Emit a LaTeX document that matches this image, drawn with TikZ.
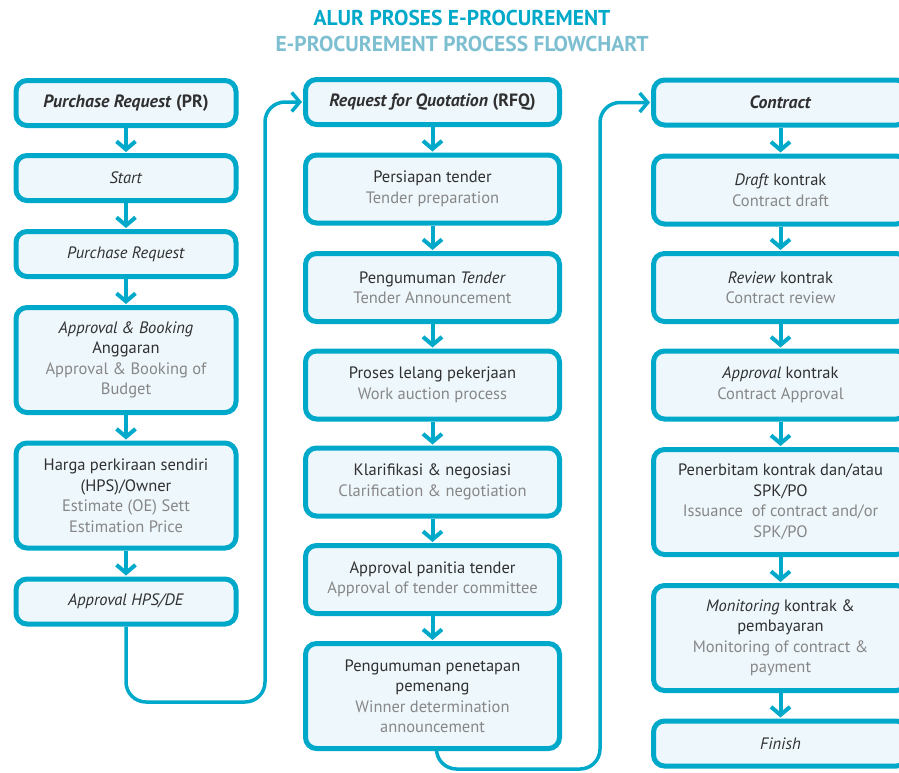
\documentclass[tikz,border=0pt]{standalone}
\usepackage{fontspec}
\setmainfont{PT Sans}
\usetikzlibrary{arrows.meta}

\definecolor{flowblue}{HTML}{00A9C9}
\definecolor{boxfill}{HTML}{EEF7FC}
\definecolor{txtdark}{HTML}{303030}
\definecolor{txtgray}{HTML}{878787}
\definecolor{titlelight}{HTML}{7DBFD0}
\newcommand{\en}[1]{\textcolor{txtgray}{#1}}

\begin{document}
\begin{tikzpicture}[
    >={Straight Barb[length=8pt, width=19pt]},
    font=\fontsize{16.5}{20.5}\selectfont,
    text=txtdark,
    stage/.style={
        draw=flowblue, line width=5pt, fill=boxfill,
        rounded corners=11pt, align=center, inner sep=2pt,
    },
    narrowcol/.style={stage, minimum width=220pt},
    widecol/.style={stage, minimum width=254pt},
    one/.style={minimum height=45pt},
    two/.style={minimum height=68pt},
    four/.style={minimum height=105pt},
    colhead/.style={font=\fontsize{17.8}{20}\selectfont\bfseries},
    flow/.style={->, draw=flowblue, line width=4pt, shorten >=1pt},
    jump/.style={->, draw=flowblue, line width=3.5pt, rounded corners=20pt, shorten >=1pt},
    heading/.style={font=\fontsize{21.5}{24}\selectfont\bfseries},
]

\useasboundingbox (0,0) rectangle (899pt,-772pt);
\clip (0,0) rectangle (899pt,-772pt);

\def\colA{126}
\def\colB{432.5}
\def\colC{780.5}

% title
\node[heading, text=flowblue] (title) at (462pt,-18pt) {ALUR PROSES E-PROCUREMENT};
\node[heading, text=titlelight] (subtitle) at (462pt,-44pt) {E-PROCUREMENT PROCESS FLOWCHART};

% purchase request
\node[narrowcol, one, colhead] (pr) at (\colA pt,-103pt) {\textit{Purchase Request} (PR)};
\node[narrowcol, one] (start) at (\colA pt,-178pt) {\textit{Start}};
\node[narrowcol, one] (preq) at (\colA pt,-254pt) {\textit{Purchase Request}};
\node[narrowcol, four] (budget) at (\colA pt,-360pt) {
    \textit{Approval \& Booking}\\ Anggaran\\
    \en{Approval \& Booking of}\\ \en{Budget}
};
\node[narrowcol, four] (hps) at (\colA pt,-495.5pt) {
    Harga perkiraan sendiri\\ (HPS)/Owner\\
    \en{Estimate (OE) Sett}\\ \en{Estimation Price}
};
\node[narrowcol, one] (hpsde) at (\colA pt,-601.5pt) {\textit{Approval HPS/DE}};

% request for quotation
\node[widecol, one, colhead] (rfq) at (\colB pt,-102pt) {\textit{Request for Quotation} (RFQ)};
\node[widecol, two] (prep) at (\colB pt,-189pt) {Persiapan tender\\ \en{Tender preparation}};
\node[widecol, two] (annc) at (\colB pt,-287.5pt) {Pengumuman \textit{Tender}\\ \en{Tender Announcement}};
\node[widecol, two] (auction) at (\colB pt,-385pt) {Proses lelang pekerjaan\\ \en{Work auction process}};
\node[widecol, two] (nego) at (\colB pt,-482pt) {Klarifikasi \& negosiasi\\ \en{Clarification \& negotiation}};
\node[widecol, two] (panel) at (\colB pt,-579.5pt) {Approval panitia tender\\ \en{Approval of tender committee}};
\node[widecol, four] (winner) at (\colB pt,-696pt) {
    Pengumuman penetapan\\ pemenang\\
    \en{Winner determination}\\ \en{announcement}
};

% contract
\node[widecol, one, colhead] (contract) at (\colC pt,-102.5pt) {\textit{Contract}};
\node[widecol, two] (draft) at (\colC pt,-190pt) {\textit{Draft} kontrak\\ \en{Contract draft}};
\node[widecol, two] (review) at (\colC pt,-287.5pt) {\textit{Review} kontrak\\ \en{Contract review}};
\node[widecol, two] (signoff) at (\colC pt,-385pt) {\textit{Approval} kontrak\\ \en{Contract Approval}};
\node[widecol, four] (issue) at (\colC pt,-502pt) {
    Penerbitam kontrak dan/atau\\ SPK/PO\\
    \en{Issuance~ of contract and/or}\\ \en{SPK/PO}
};
\node[widecol, four] (monitor) at (\colC pt,-638pt) {
    \textit{Monitoring} kontrak \&\\ pembayaran\\
    \en{Monitoring of contract \&}\\ \en{payment}
};
\node[widecol, one] (finish) at (\colC pt,-743.5pt) {\textit{Finish}};

% steps
\draw[flow] (pr) -- (start);
\draw[flow] (start) -- (preq);
\draw[flow] (preq) -- (budget);
\draw[flow] (budget) -- (hps);
\draw[flow] (hps) -- (hpsde);

\draw[flow] (rfq) -- (prep);
\draw[flow] (prep) -- (annc);
\draw[flow] (annc) -- (auction);
\draw[flow] (auction) -- (nego);
\draw[flow] (nego) -- (panel);
\draw[flow] (panel) -- (winner);

\draw[flow] (contract) -- (draft);
\draw[flow] (draft) -- (review);
\draw[flow] (review) -- (signoff);
\draw[flow] (signoff) -- (issue);
\draw[flow] (issue) -- (monitor);
\draw[flow] (monitor) -- (finish);

% hand-over between columns
\coordinate (bendA) at (265pt,-702pt);
\coordinate (bendB) at (600pt,-769pt);
\draw[jump] (hpsde.south) |- (bendA) |- (rfq.west);
\draw[jump] ([xshift=4pt]winner.south) |- (bendB) |- (contract.west);

\end{tikzpicture}
\end{document}
